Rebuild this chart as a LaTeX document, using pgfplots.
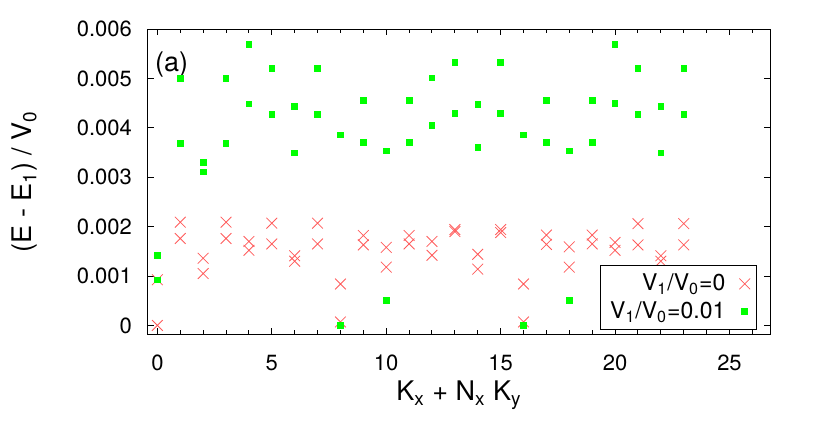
\documentclass[border=0pt]{standalone}
\usepackage{pgfplots}
\pgfplotsset{compat=1.18}
\usepackage{pgfplotstable}
\usepackage{fontspec}
\setmainfont{TeX Gyre Heros}

\definecolor{crossred}{RGB}{255,90,90}
\definecolor{ptgreen}{RGB}{0,255,0}

% V1/V0 = 0
\pgfplotstableread{
n e
0 0.000925
0 0.0
1 0.00209
1 0.00176
2 0.00136
2 0.00105
3 0.00209
3 0.00176
4 0.00170
4 0.00152
5 0.00207
5 0.00165
6 0.00141
6 0.00130
7 0.00207
7 0.00165
8 0.000838
8 0.00007
9 0.00182
9 0.00163
10 0.00158
10 0.00118
11 0.00182
11 0.00165
12 0.00170
12 0.00142
13 0.00194
13 0.00190
14 0.00144
14 0.00114
15 0.00194
15 0.00188
16 0.000838
16 0.00007
17 0.00183
17 0.00164
18 0.00159
18 0.00118
19 0.00183
19 0.00165
20 0.00168
20 0.00152
21 0.00206
21 0.00163
22 0.00141
22 0.00130
23 0.00206
23 0.00163
}\vzero

% V1/V0 = 0.01
\pgfplotstableread{
n e
0 0.00142
0 0.000925
1 0.00500
1 0.00368
2 0.00330
2 0.00311
3 0.00500
3 0.00368
4 0.00569
4 0.00448
5 0.00520
5 0.00427
6 0.00443
6 0.00349
7 0.00520
7 0.00427
8 0.00386
8 0.0
9 0.00456
9 0.00371
10 0.00353
10 0.000506
11 0.00456
11 0.00371
12 0.00501
12 0.00405
13 0.00532
13 0.00429
14 0.00447
14 0.00360
15 0.00532
15 0.00429
16 0.00386
16 0.0
17 0.00456
17 0.00371
18 0.00353
18 0.000506
19 0.00456
19 0.00371
20 0.00569
20 0.00449
21 0.00520
21 0.00427
22 0.00443
22 0.00349
23 0.00520
23 0.00427
}\vone

\begin{document}
\begin{tikzpicture}
\begin{axis}[
    scale only axis,
    width=311pt, height=152.5pt,
    xmin=-0.41, xmax=26.77,
    ymin=-0.000174, ymax=0.006,
    xtick={0,5,10,15,20,25},
    xticklabels={0,5,10,15,20,25},
    minor xtick={0,...,26},
    ytick={0,0.001,0.002,0.003,0.004,0.005,0.006},
    yticklabels={0,0.001,0.002,0.003,0.004,0.005,0.006},
    scaled y ticks=false,
    tick align=inside,
    major tick length=3pt, minor tick length=2pt,
    tick style={black, line width=0.5pt},
    axis line style={line width=0.5pt},
    ticklabel style={font=\fontsize{11}{13}\selectfont},
    xticklabel style={yshift=-7pt},
    yticklabel style={xshift=-4.5pt},
    xlabel={K\textsubscript{x} + N\textsubscript{x} K\textsubscript{y}},
    ylabel={(E - E\textsubscript{1}) / V\textsubscript{0}},
    label style={font=\fontsize{13.5}{16}\selectfont},
    xlabel style={at={(axis description cs:0.5,0)}, anchor=north, yshift=-20pt},
    ylabel style={at={(axis description cs:0,0.5)}, anchor=center, yshift=61.5pt},
    legend style={at={(1,0)}, anchor=south east, xshift=-6.7pt, yshift=2pt,
        font=\fontsize{11.5}{13.5}\selectfont, draw=black, line width=0.5pt,
        /tikz/every odd column/.append style={column sep=5pt}},
    legend cell align=right,
    legend plot pos=right,
]
\addplot[only marks, mark=x, mark size=3.8pt, crossred, line width=0.4pt] table[x=n, y=e] {\vzero};
\addlegendentry{V\textsubscript{1}/V\textsubscript{0}=0}
\addplot[only marks, mark=square*, mark size=1.4pt, ptgreen] table[x=n, y=e] {\vone};
\addlegendentry{V\textsubscript{1}/V\textsubscript{0}=0.01}
\node[anchor=west, font=\fontsize{13.5}{16}\selectfont] at (rel axis cs:0,0.885) {(a)};
\end{axis}
\pgfresetboundingbox
\path ([xshift=-74pt,yshift=-52pt]current axis.south west) rectangle ([xshift=22pt,yshift=14.5pt]current axis.north east);
\end{tikzpicture}
\end{document}
